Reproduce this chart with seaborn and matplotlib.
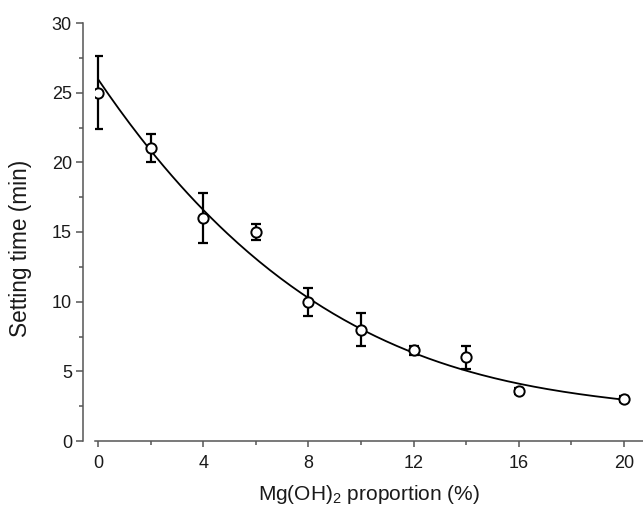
import numpy as np
import pandas as pd
import matplotlib
matplotlib.use("Agg")
import matplotlib.pyplot as plt
from matplotlib.ticker import MultipleLocator
import seaborn as sns

# Data
proportion = [0, 2, 4, 6, 8, 10, 12, 14, 16, 20]
setting_time = [25.0, 21.0, 16.0, 15.0, 10.0, 8.0, 6.5, 6.0, 3.6, 3.0]
error = [2.6, 1.0, 1.8, 0.55, 1.0, 1.2, 0.3, 0.8, 0.2, 0.2]

# Fitted curve values
curve_x = [0, 2, 4, 6, 8, 10, 12, 14, 16, 18, 20]
curve_y = [25.9, 21.1, 16.35, 13.2, 10.1, 8.0, 6.55, 5.15, 3.95, 3.35, 3.05]

sns.set_theme(style="ticks")
plt.rcParams['font.family'] = ['Liberation Sans', 'DejaVu Sans']
plt.rcParams['mathtext.fontset'] = 'custom'
plt.rcParams['mathtext.rm'] = 'Liberation Sans'
plt.rcParams['mathtext.default'] = 'regular'

fig = plt.figure(figsize=(6.43, 5.09), dpi=100)
ax = fig.add_axes([95 / 643, 68 / 509, 548 / 643, 418 / 509])

# smooth fitted curve through read values
coef = np.polyfit(curve_x, curve_y, 3)
xs = np.linspace(0, 20, 200)
fit_df = pd.DataFrame({"x": xs, "y": np.polyval(coef, xs)})
sns.lineplot(data=fit_df, x="x", y="y", ax=ax, color="black", linewidth=1.3, zorder=2)

ax.errorbar(proportion, setting_time, yerr=error, fmt='none', ecolor='black',
            elinewidth=1.6, capsize=3.8, capthick=1.6, zorder=3)
df = pd.DataFrame({"x": proportion, "y": setting_time})
sns.scatterplot(data=df, x="x", y="y", ax=ax, marker='o', s=55,
                facecolor='white', edgecolor='black', linewidth=1.4, zorder=4)

ax.set_xlim(-0.114, 20.72)
ax.set_ylim(0, 30)
ax.xaxis.set_major_locator(MultipleLocator(4))
ax.xaxis.set_minor_locator(MultipleLocator(2))
ax.yaxis.set_major_locator(MultipleLocator(5))
ax.yaxis.set_minor_locator(MultipleLocator(2.5))

for s in ['top', 'right']:
    ax.spines[s].set_visible(False)
ax.spines['left'].set_position(('outward', 8.6))
for s in ['left', 'bottom']:
    ax.spines[s].set_color('#555555')
    ax.spines[s].set_linewidth(1.1)

ax.tick_params(axis='y', which='major', direction='out', length=5, width=1.1,
               color='#555555', labelsize=13, labelcolor='#1a1a1a', pad=3)
ax.tick_params(axis='x', which='major', direction='out', length=4, width=1.1,
               color='#555555', labelsize=13, labelcolor='#1a1a1a', pad=6)
ax.tick_params(axis='both', which='minor', direction='out', length=2.6, width=1.1,
               color='#555555')

ax.set_xlabel("Mg(OH)$_2$ proportion (%)", fontsize=15, color='#1a1a1a', labelpad=8)
ax.set_ylabel("Setting time (min)", fontsize=16.3, color='#1a1a1a')
ax.yaxis.set_label_coords(-0.115, 0.46)

fig.savefig("out.png", dpi=100, facecolor='white')
